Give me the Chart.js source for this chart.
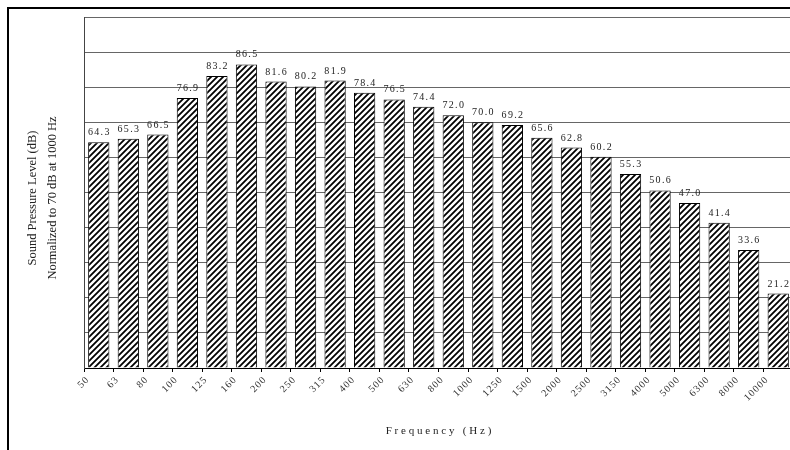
<!DOCTYPE html>
<html>
<head>
<meta charset="utf-8">
<script src="https://cdn.jsdelivr.net/npm/chart.js@4/dist/chart.umd.min.js"></script>
<style>
  html, body { margin: 0; padding: 0; background: #fff; overflow: hidden; }
  #wrap { position: relative; width: 790px; height: 450px; overflow: hidden; }
  #frame { position: absolute; left: 7px; top: 7px; width: 800px; height: 460px;
           border-left: 2px solid #000; border-top: 2px solid #000; pointer-events: none; }
  canvas { position: absolute; left: 0; top: 0; }
</style>
</head>
<body>
<div id="wrap">
  <canvas id="grafico" width="800" height="450"></canvas>
  <div id="frame"></div>
</div>
<script>
// Frequências (Hz) e níveis
const frequencias = ['50', '63', '80', '100', '125', '160', '200', '250', '315', '400', '500', '630',
  '800', '1000', '1250', '1500', '2000', '2500', '3150', '4000', '5000', '6300', '8000', '10000'];
const niveis = [64.3, 65.3, 66.5, 76.9, 83.2, 86.5, 81.6, 80.2, 81.9, 78.4, 76.5, 74.4,
  72.0, 70.0, 69.2, 65.6, 62.8, 60.2, 55.3, 50.6, 47.0, 41.4, 33.6, 21.2];
const tituloY = ['Sound Pressure Level (dB)', 'Normalized to 70 dB at 1000 Hz'];
const tituloX = 'Frequency (Hz)';

const serif = '"Liberation Serif", "Times New Roman", serif';

// hachura diagonal "/"
function hachura() {
  const c = document.createElement('canvas');
  c.width = 6; c.height = 6;
  const g = c.getContext('2d');
  g.fillStyle = '#fff';
  g.fillRect(0, 0, 6, 6);
  g.strokeStyle = '#000';
  g.lineWidth = 1.8;
  g.beginPath();
  g.moveTo(0, 6); g.lineTo(6, 0);
  g.moveTo(-1, 1); g.lineTo(1, -1);
  g.moveTo(5, 7); g.lineTo(7, 5);
  g.stroke();
  return g.createPattern(c, 'repeat');
}

// rótulos de valor, títulos dos eixos e espaçamento das letras do eixo x
const rotulos = {
  id: 'rotulos',
  afterUpdate(chart) {
    const s = chart.scales.x;
    if (s._espacado) return;
    const orig = s.drawLabels.bind(s);
    s.drawLabels = function (area) {
      chart.ctx.save();
      chart.ctx.letterSpacing = '1px';
      orig(area);
      chart.ctx.restore();
    };
    s._espacado = true;
  },
  afterDatasetsDraw(chart) {
    const ctx = chart.ctx;
    const meta = chart.getDatasetMeta(0);
    ctx.save();
    ctx.font = '10px ' + serif;
    ctx.fillStyle = '#222';
    ctx.textAlign = 'center';
    ctx.textBaseline = 'alphabetic';
    ctx.letterSpacing = '1.3px';
    meta.data.forEach((bar, i) => {
      ctx.fillText(niveis[i].toFixed(1), bar.x + 0.6, bar.y - 7);
    });
    ctx.restore();
  },
  afterDraw(chart) {
    const ctx = chart.ctx;
    const area = chart.chartArea;
    ctx.save();
    ctx.font = '11px ' + serif;
    ctx.fillStyle = '#222';
    ctx.textAlign = 'center';
    ctx.textBaseline = 'middle';
    ctx.letterSpacing = '2.8px';
    ctx.fillText(tituloX, (area.left + area.right) / 2 + 1.4, 431);
    ctx.letterSpacing = '0px';
    ctx.font = '12.5px ' + serif;
    ctx.translate(0, 198);
    ctx.rotate(-Math.PI / 2);
    ctx.fillText(tituloY[0], 0, 33);
    ctx.fillText(tituloY[1], 0, 53);
    ctx.restore();
  }
};

const dados = {
  labels: frequencias,
  datasets: [{
    data: niveis,
    backgroundColor: hachura(),
    borderColor: '#000',
    borderWidth: 1,
    barPercentage: 0.72,
    categoryPercentage: 1.0
  }]
};

const config = {
  type: 'bar',
  data: dados,
  options: {
    responsive: false,
    animation: false,
    devicePixelRatio: 1,
    layout: { padding: { top: 17, right: 7, left: 0, bottom: 0 } },
    plugins: {
      legend: { display: false },
      tooltip: { enabled: false }
    },
    scales: {
      x: {
        grid: { display: true, offset: true, drawOnChartArea: false, drawTicks: true, tickLength: 4, color: '#000' },
        border: { display: true, color: '#000', width: 1 },
        ticks: {
          autoSkip: false,
          maxRotation: 45,
          minRotation: 45,
          labelOffset: -11,
          padding: 2,
          color: '#333',
          font: { family: serif, size: 10 }
        },
        afterFit(s) { s.height = 82; }
      },
      y: {
        min: 0,
        max: 100,
        ticks: { display: false, stepSize: 10 },
        grid: { color: '#666', drawTicks: false },
        border: { display: true, color: '#444', width: 1 },
        afterFit(s) { s.width = 84; }
      }
    }
  },
  plugins: [rotulos]
};

const meuGrafico = new Chart(document.getElementById('grafico'), config);
</script>
</body>
</html>
